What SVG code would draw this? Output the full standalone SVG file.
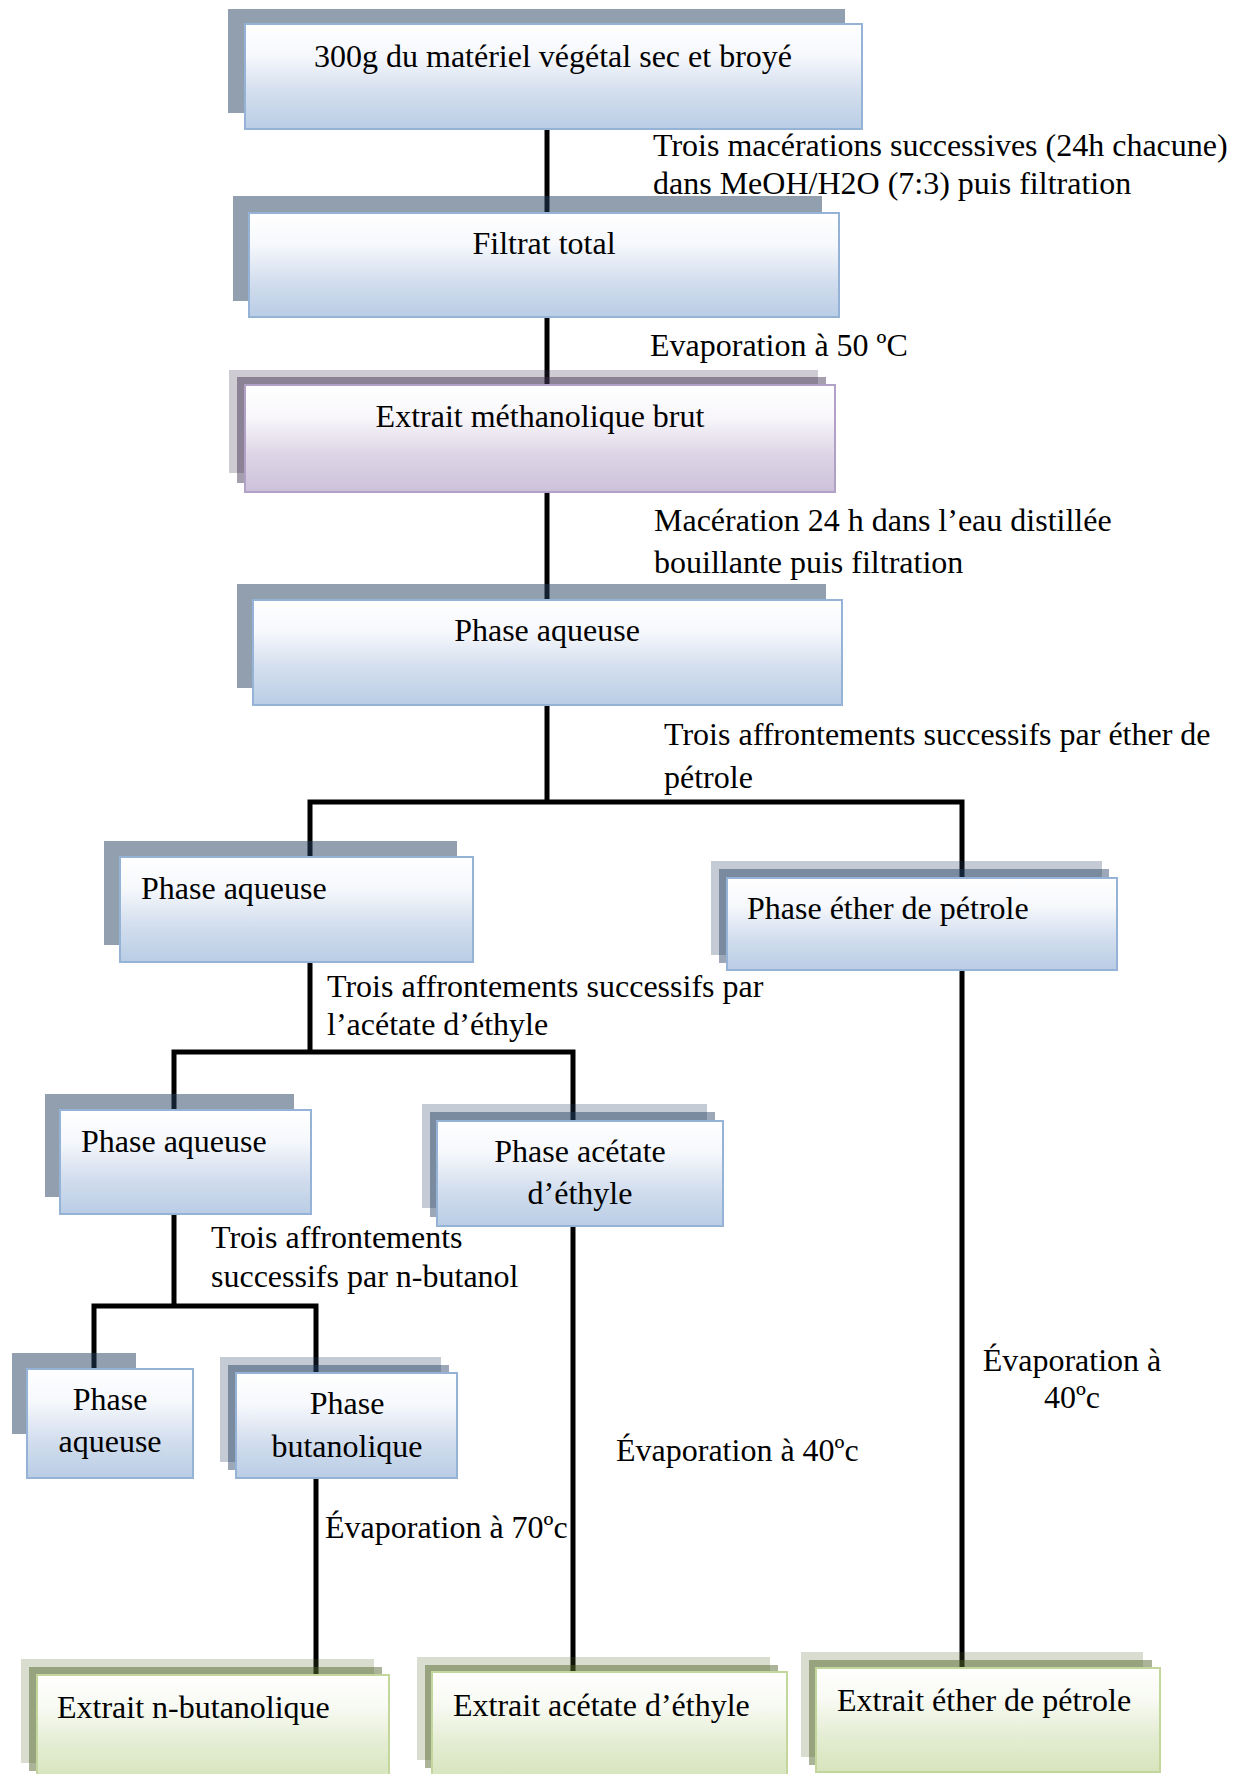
<svg xmlns="http://www.w3.org/2000/svg" width="1244" height="1774" viewBox="0 0 1244 1774">
<defs>
<linearGradient id="gBlue" x1="0" y1="0" x2="0" y2="1">
<stop offset="0" stop-color="#FFFFFF"/><stop offset="0.3" stop-color="#F6F8FC"/><stop offset="0.65" stop-color="#D3DEEE"/><stop offset="1" stop-color="#B9CDE5"/>
</linearGradient>
<linearGradient id="gPurple" x1="0" y1="0" x2="0" y2="1">
<stop offset="0" stop-color="#FFFFFF"/><stop offset="0.3" stop-color="#F8F6FA"/><stop offset="0.65" stop-color="#DDD5E6"/><stop offset="1" stop-color="#CCC1DA"/>
</linearGradient>
<linearGradient id="gGreen" x1="0" y1="0" x2="0" y2="1">
<stop offset="0" stop-color="#FFFFFF"/><stop offset="0.3" stop-color="#F8FAF3"/><stop offset="0.65" stop-color="#E4EDD3"/><stop offset="1" stop-color="#D7E4BD"/>
</linearGradient>
<style>
.t{font-family:"Liberation Serif","Times New Roman",serif;font-size:32px;fill:#000}
.c{text-anchor:middle}
.conn{stroke:#000;stroke-width:5;fill:none}
.sb{fill:#243F60;fill-opacity:0.5}
.sbl{fill:#243F60;fill-opacity:0.27}
.sbm{fill:#243F60;fill-opacity:0.45}
.spl{fill:#3F3151;fill-opacity:0.25}
.spm{fill:#3F3151;fill-opacity:0.47}
.sgl{fill:#4F6228;fill-opacity:0.22}
.sgm{fill:#4F6228;fill-opacity:0.48}
.mb{fill:url(#gBlue);stroke:#95B3D7;stroke-width:2}
.mp{fill:url(#gPurple);stroke:#B2A1C7;stroke-width:2}
.mg{fill:url(#gGreen);stroke:#C3D69B;stroke-width:2}
</style>
</defs>
<rect width="1244" height="1774" fill="#FFFFFF"/>

<g id="connectors">
<path class="conn" d="M547 129V213"/>
<path class="conn" d="M547 317V386"/>
<path class="conn" d="M547 492V600"/>
<path class="conn" d="M547 705V802M310 857V802H962V878"/>
<path class="conn" d="M310 962V1052M174 1110V1052H573V1121"/>
<path class="conn" d="M174 1214V1306M94 1369V1306H316V1373"/>
<path class="conn" d="M316 1478V1675"/>
<path class="conn" d="M573 1226V1672"/>
<path class="conn" d="M962 970V1668"/>
</g>

<g id="labels">
<text class="t" x="653" y="156">Trois macérations successives (24h chacune)</text>
<text class="t" x="653" y="194">dans MeOH/H2O (7:3) puis filtration</text>
<text class="t" x="650" y="356">Evaporation à 50 ºC</text>
<text class="t" x="654" y="531">Macération 24 h dans l’eau distillée</text>
<text class="t" x="654" y="573">bouillante puis filtration</text>
<text class="t" x="664" y="745">Trois affrontements successifs par éther de</text>
<text class="t" x="664" y="788">pétrole</text>
<text class="t" x="327" y="997">Trois affrontements successifs par</text>
<text class="t" x="327" y="1035">l’acétate d’éthyle</text>
<text class="t" x="211" y="1248">Trois affrontements</text>
<text class="t" x="211" y="1287">successifs par n-butanol</text>
<text class="t" x="325" y="1538">Évaporation à 70ºc</text>
<text class="t" x="616" y="1461">Évaporation à 40ºc</text>
<text class="t c" x="1072" y="1371">Évaporation à</text>
<text class="t c" x="1072" y="1408">40ºc</text>
</g>

<g id="n1">
<rect class="sb" x="228" y="9" width="617" height="104"/>
<rect class="mb" x="245" y="24" width="617" height="105"/>
<text class="t c" x="553" y="67">300g du matériel végétal sec et broyé</text>
</g>

<g id="n2">
<rect class="sb" x="233" y="196" width="589" height="105"/>
<rect class="mb" x="249" y="213" width="590" height="104"/>
<text class="t c" x="544" y="254">Filtrat total</text>
</g>

<g id="n3">
<rect class="spl" x="229" y="370" width="589" height="103"/>
<rect class="spm" x="237" y="377" width="589" height="106"/>
<rect class="mp" x="245" y="385" width="590" height="107"/>
<text class="t c" x="540" y="427">Extrait méthanolique brut</text>
</g>

<g id="n4">
<rect class="sb" x="237" y="584" width="589" height="104"/>
<rect class="mb" x="253" y="600" width="589" height="105"/>
<text class="t c" x="547" y="641">Phase aqueuse</text>
</g>

<g id="n5">
<rect class="sb" x="104" y="841" width="353" height="104"/>
<rect class="mb" x="120" y="857" width="353" height="105"/>
<text class="t" x="141" y="899">Phase aqueuse</text>
</g>

<g id="n6">
<rect class="sbl" x="711" y="861" width="391" height="94"/>
<rect class="sbm" x="719" y="869" width="390" height="94"/>
<rect class="mb" x="727" y="878" width="390" height="92"/>
<text class="t" x="747" y="919">Phase éther de pétrole</text>
</g>

<g id="n7">
<rect class="sb" x="45" y="1094" width="249" height="103"/>
<rect class="mb" x="60" y="1110" width="251" height="104"/>
<text class="t" x="81" y="1152">Phase aqueuse</text>
</g>

<g id="n8">
<rect class="sbl" x="422" y="1104" width="285" height="104"/>
<rect class="sbm" x="430" y="1112" width="285" height="105"/>
<rect class="mb" x="437" y="1121" width="286" height="105"/>
<text class="t c" x="580" y="1162">Phase acétate</text>
<text class="t c" x="580" y="1204">d’éthyle</text>
</g>

<g id="n9">
<rect class="sb" x="12" y="1353" width="124" height="81"/>
<rect class="mb" x="27" y="1369" width="166" height="109"/>
<text class="t c" x="110" y="1410">Phase</text>
<text class="t c" x="110" y="1452">aqueuse</text>
</g>

<g id="n10">
<rect class="sbl" x="220" y="1357" width="221" height="105"/>
<rect class="sbm" x="228" y="1365" width="221" height="105"/>
<rect class="mb" x="236" y="1373" width="221" height="105"/>
<text class="t c" x="347" y="1414">Phase</text>
<text class="t c" x="347" y="1457">butanolique</text>
</g>

<g id="n11">
<rect class="sgl" x="21" y="1659" width="353" height="104"/>
<rect class="sgm" x="29" y="1667" width="353" height="104"/>
<rect class="mg" x="37" y="1675" width="352" height="105"/>
<text class="t" x="57" y="1718">Extrait n-butanolique</text>
</g>

<g id="n12">
<rect class="sgl" x="417" y="1657" width="353" height="103"/>
<rect class="sgm" x="425" y="1665" width="353" height="103"/>
<rect class="mg" x="432" y="1672" width="355" height="108"/>
<text class="t" x="453" y="1716">Extrait acétate d’éthyle</text>
</g>

<g id="n13">
<rect class="sgl" x="801" y="1652" width="342" height="105"/>
<rect class="sgm" x="809" y="1660" width="343" height="105"/>
<rect class="mg" x="816" y="1668" width="344" height="104"/>
<text class="t" x="837" y="1711">Extrait éther de pétrole</text>
</g>
</svg>
